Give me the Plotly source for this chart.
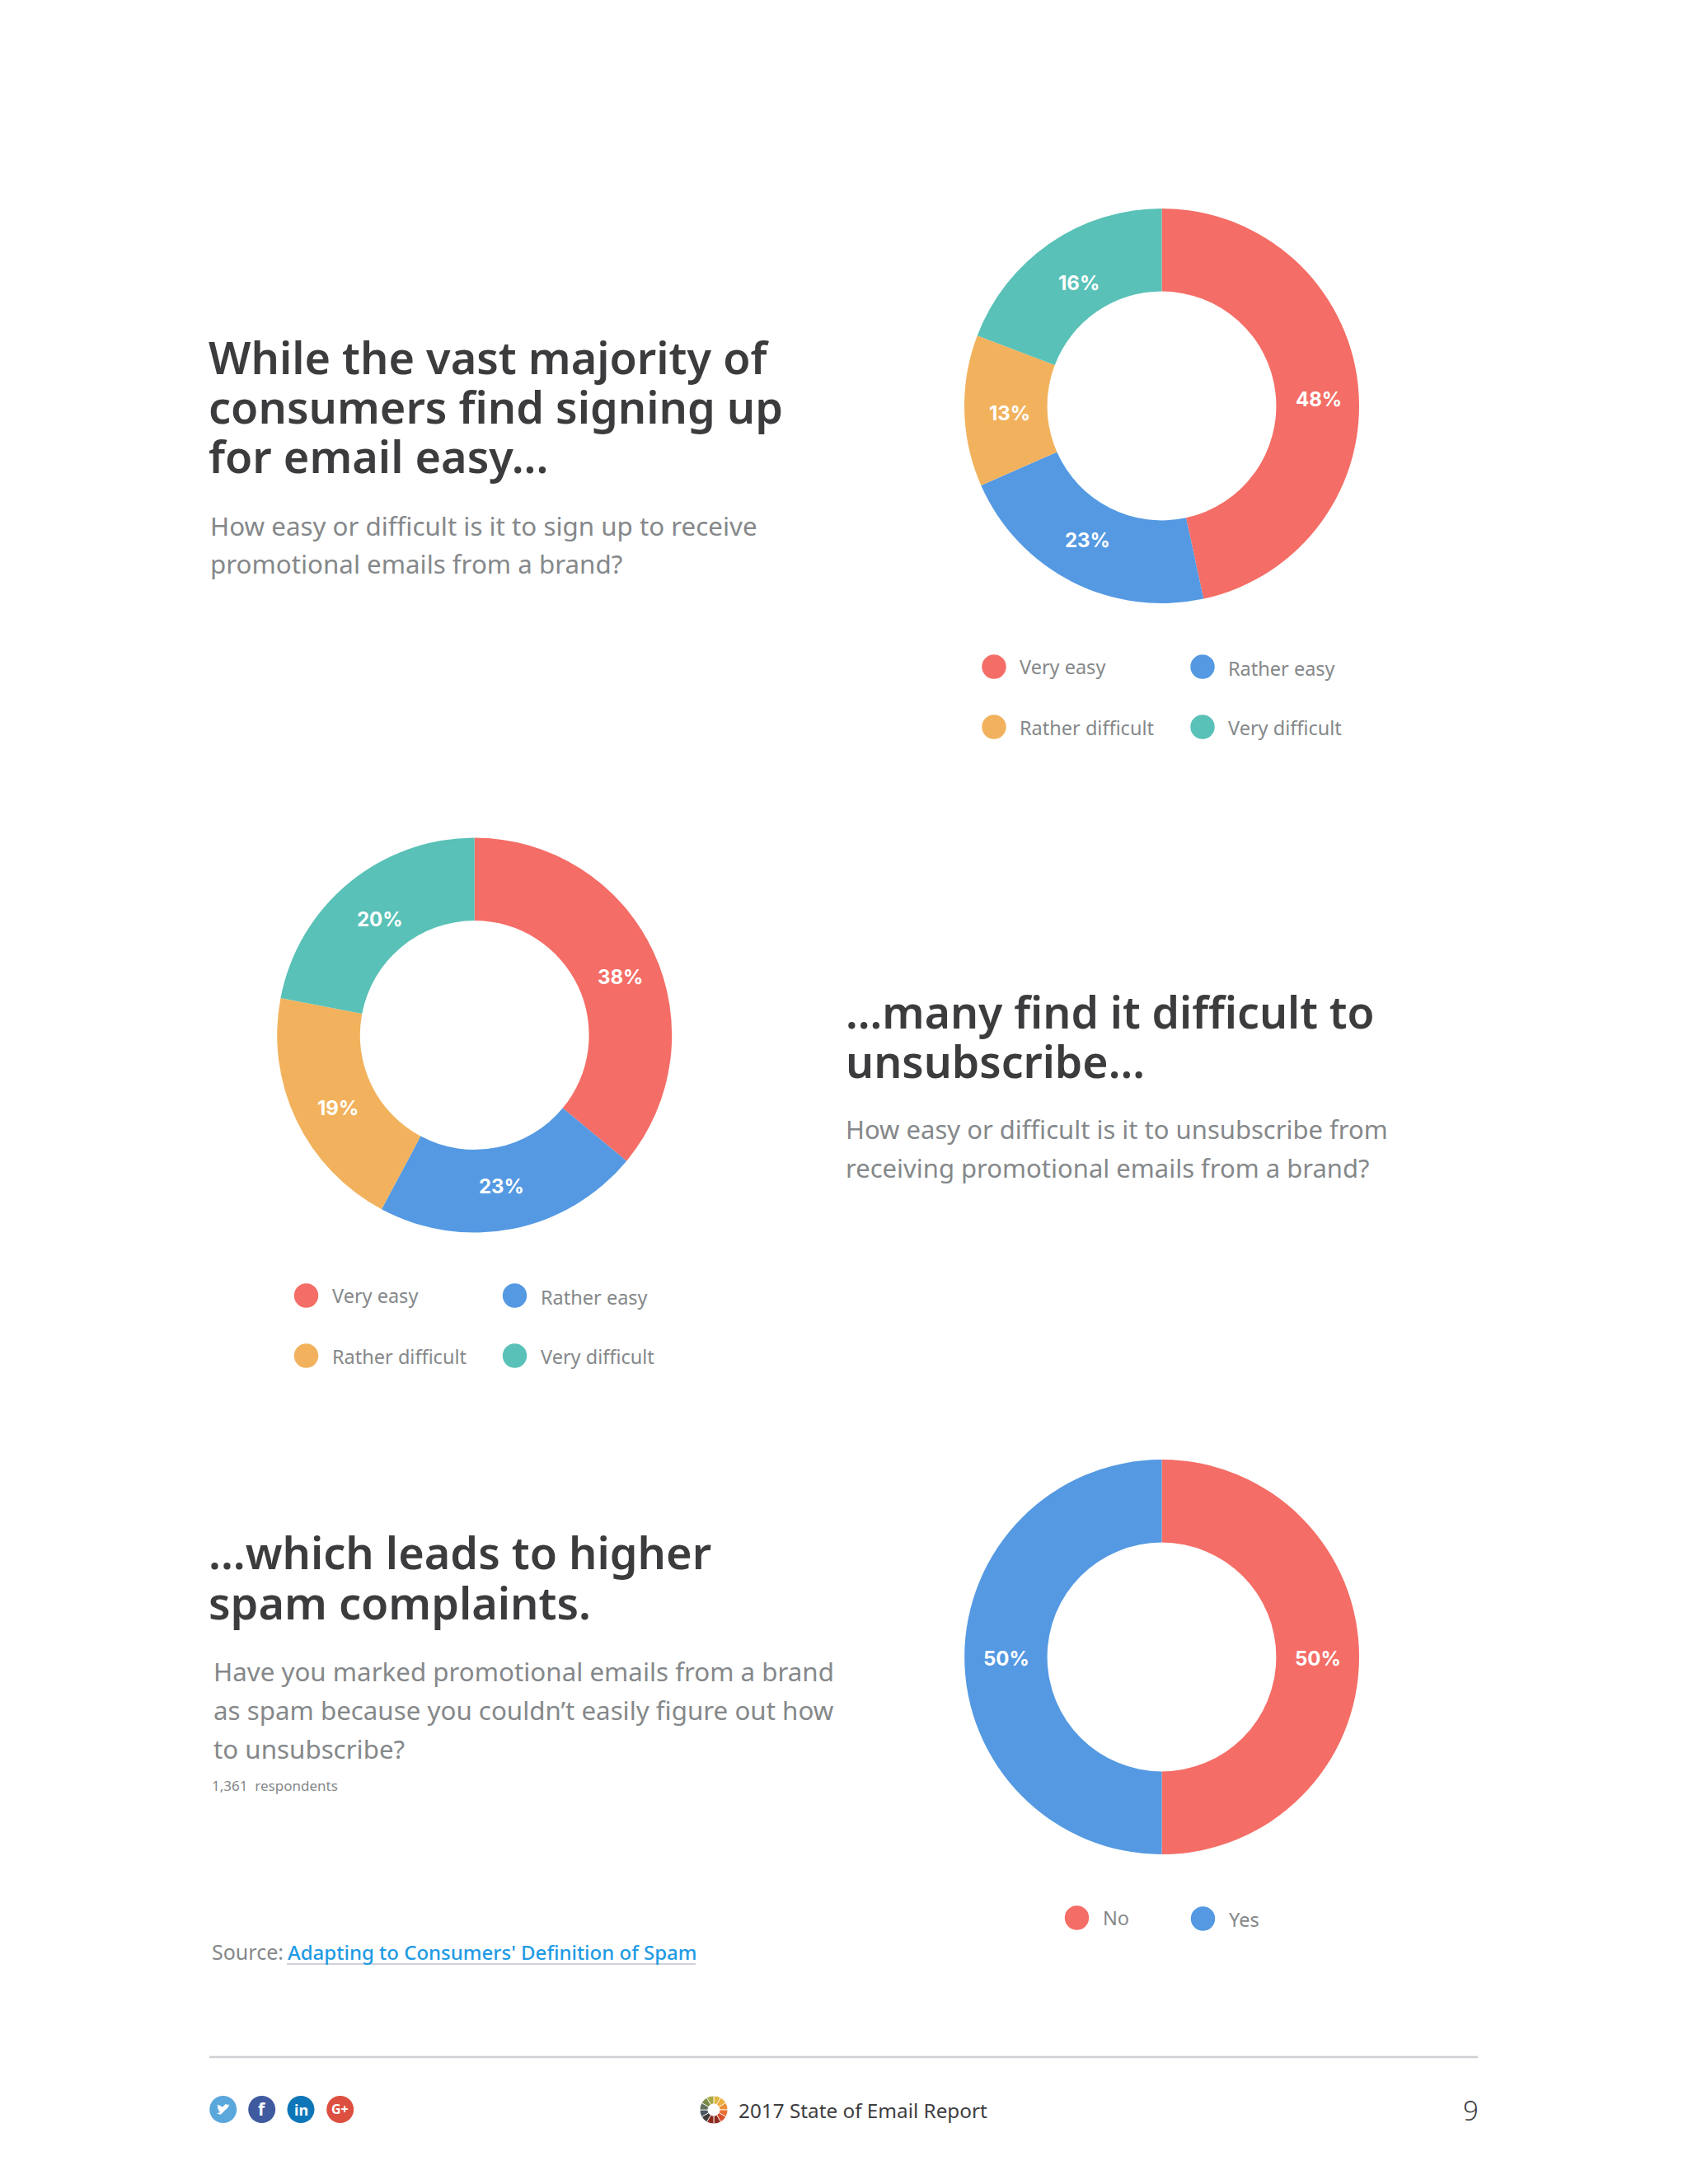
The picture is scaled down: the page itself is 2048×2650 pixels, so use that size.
import plotly.graph_objects as go

# page size in the browser, minus the body margin of the html page
PAGE_W, PAGE_H = 2048, 2650
BODY = 8
FIG_W, FIG_H = PAGE_W - BODY, PAGE_H - BODY

FONT = "Noto Sans"
NUM_FONT = "Inter"

signup_labels = ["Very easy", "Rather easy", "Rather difficult", "Very difficult"]
signup_shares = [46.6, 21.8, 12.4, 19.2]
signup_text = ["48%", "23%", "13%", "16%"]

unsub_labels = ["Very easy", "Rather easy", "Rather difficult", "Very difficult"]
unsub_shares = [36.0, 21.8, 20.2, 22.0]
unsub_text = ["38%", "23%", "19%", "20%"]

spam_labels = ["No", "Yes"]
spam_shares = [50, 50]
spam_text = ["50%", "50%"]

# small wheel logo in the footer
logo_shares = [1, 1, 1, 1, 1, 1, 1, 1, 1, 1, 1, 1]
logo_colors = ["#E3B63F", "#EFAE3E", "#EE8F38", "#E96F35", "#D9502E", "#8E2B20",
               "#8E2B20", "#3F3C3B", "#4F5560", "#62705C", "#7A8A4A", "#A8A945"]

RED, BLUE, ORANGE, TEAL = "#F46D66", "#5499E2", "#F2B25D", "#59C1B7"
four_colors = [RED, BLUE, ORANGE, TEAL]
two_colors = [RED, BLUE]

HEAD = "#3C3C3E"
GREY = "#85888A"


def fx(x):
    return (x - BODY) / FIG_W


def fy(y):
    return 1 - (y - BODY) / FIG_H


def donut(cx, cy, r, shares, colors, hole=0.58, name=None, line=None):
    return go.Pie(
        values=shares,
        labels=name if name else [str(i) for i in range(len(shares))],
        textinfo="none",
        sort=False,
        direction="clockwise",
        rotation=0,
        hole=hole,
        marker=dict(colors=colors, line=line or dict(width=0)),
        domain=dict(x=[fx(cx - r), fx(cx + r)], y=[fy(cy + r), fy(cy - r)]),
        showlegend=False,
    )


fig = go.Figure()
fig.add_trace(donut(1409.5, 492.5, 239.5, signup_shares, four_colors, name=signup_labels))
fig.add_trace(donut(575.7, 1256, 239.5, unsub_shares, four_colors, name=unsub_labels))
fig.add_trace(donut(1409.5, 2010.5, 239.5, spam_shares, two_colors, name=spam_labels))
fig.add_trace(donut(866, 2560, 17, logo_shares, logo_colors, hole=0.42,
                    line=dict(width=0.8, color="white")))

annotations = []
shapes = []


def label(x, y, text, size, color, anchor="left", weight=None, family=FONT):
    annotations.append(dict(
        x=fx(x), y=fy(y), xref="paper", yref="paper", text=text, showarrow=False,
        xanchor=anchor, yanchor="middle", borderpad=0,
        font=dict(family=family, size=size, color=color, weight=weight),
    ))


def dot(x, y, r, color):
    shapes.append(dict(
        type="circle", xref="paper", yref="paper", fillcolor=color, line=dict(width=0),
        x0=fx(x - r), x1=fx(x + r), y0=fy(y + r), y1=fy(y - r),
    ))


# percent labels sit where the page puts them, slightly off the wedge middle
for text, (x, y) in zip(signup_text, [(1600, 485), (1319, 655), (1225, 501), (1309, 344)]):
    label(x, y, text, 24, "white", anchor="center", weight="bold", family=NUM_FONT)
for text, (x, y) in zip(unsub_text, [(753, 1185), (608, 1439), (410, 1345), (461, 1115)]):
    label(x, y, text, 24, "white", anchor="center", weight="bold", family=NUM_FONT)
for text, (x, y) in zip(spam_text, [(1599, 2012), (1221, 2012)]):
    label(x, y, text, 24, "white", anchor="center", weight="bold", family=NUM_FONT)

# headlines
for y, t in zip([433, 493, 553], ["While the vast majority of", "consumers find signing up", "for email easy..."]):
    label(252, y, t, 54, HEAD, weight=600)
for y, t in zip([1227, 1287], ["...many find it difficult to", "unsubscribe..."]):
    label(1025, y, t, 53.5, HEAD, weight=600)
for y, t in zip([1883, 1944], ["...which leads to higher", "spam complaints."]):
    label(252, y, t, 54, HEAD, weight=600)

# questions
for y, t in zip([638, 684], ["How easy or difficult is it to sign up to receive", "promotional emails from a brand?"]):
    label(254, y, t, 31.3, GREY)
for y, t in zip([1370, 1417], ["How easy or difficult is it to unsubscribe from", "receiving promotional emails from a brand?"]):
    label(1025, y, t, 31, GREY)
for y, t in zip([2028, 2075, 2122], ["Have you marked promotional emails from a brand",
                                     "as spam because you couldn’t easily figure out how",
                                     "to unsubscribe?"]):
    label(258, y, t, 31.3, GREY)
label(256, 2166, "1,361  respondents", 17, GREY)

# legends
for lx, ly, names, colors in [(1206, 809, signup_labels, four_colors),
                              (371.5, 1572, unsub_labels, four_colors)]:
    label(lx + 30, ly, names[0], 23.5, GREY)
    label(lx + 283, ly + 2, names[1], 23.5, GREY)
    label(lx + 30, ly + 74, names[2], 23.5, GREY)
    label(lx + 283, ly + 74, names[3], 23.5, GREY)
    dot(lx, ly, 14.7, colors[0])
    dot(lx + 253, ly, 14.7, colors[1])
    dot(lx, ly + 73, 14.7, colors[2])
    dot(lx + 253, ly + 73, 14.7, colors[3])
dot(1306.5, 2327, 14.7, RED)
dot(1459.5, 2328, 14.7, BLUE)
label(1337, 2327, spam_labels[0], 23.5, GREY)
label(1490, 2329, spam_labels[1], 23.5, GREY)

# source
label(256, 2368, "Source:", 25, GREY)
label(348, 2368, "Adapting to Consumers' Definition of Spam", 24, "#1F9BE4", weight=500)
shapes.append(dict(type="line", xref="paper", yref="paper", x0=fx(348), x1=fx(844),
                   y0=fy(2383), y1=fy(2383), line=dict(color="#CFD2D9", width=2)))

# footer
shapes.append(dict(type="line", xref="paper", yref="paper", x0=fx(254), x1=fx(1793),
                   y0=fy(2496), y1=fy(2496), line=dict(color="#CFCFD4", width=2.5)))
for x, c in zip([270.7, 317.7, 365, 412.7], ["#5AA7DC", "#3F5A9E", "#0E76B8", "#DD4F40"]):
    dot(x, 2559.5, 16.5, c)
bird = [(23, 4.9), (20.4, 5.6), (22.4, 3.1), (19.5, 4.2), (16.2, 2.8), (11.7, 7.3), (11.8, 8.3),
        (2.3, 3.5), (3.7, 9.6), (1.7, 9), (5.3, 13.5), (3.3, 13.6), (7.6, 16.8), (1, 18.7),
        (8, 20.7), (21, 7.7), (21, 7.1)]
path = "M " + " L ".join(f"{fx(270.7 + (px - 12) * 0.72):.5f},{fy(2559.5 + (py - 12) * 0.72):.5f}" for px, py in bird) + " Z"
shapes.append(dict(type="path", xref="paper", yref="paper", path=path, fillcolor="white", line=dict(width=0)))
label(317.7, 2559, "f", 21, "white", anchor="center", weight="bold")
label(365, 2560, "in", 18, "white", anchor="center", weight="bold")
label(412.7, 2559, "G+", 16, "white", anchor="center", weight="bold")
label(895, 2560, "2017 State of Email Report", 24.3, "#3D3D40")
label(1795, 2560, "9", 33, "#3D3D40", anchor="right", weight=300)

fig.update_layout(
    width=FIG_W,
    height=FIG_H,
    margin=dict(l=0, r=0, t=0, b=0),
    paper_bgcolor="white",
    plot_bgcolor="white",
    showlegend=False,
    annotations=annotations,
    shapes=shapes,
)

fig.write_html("out.html")
